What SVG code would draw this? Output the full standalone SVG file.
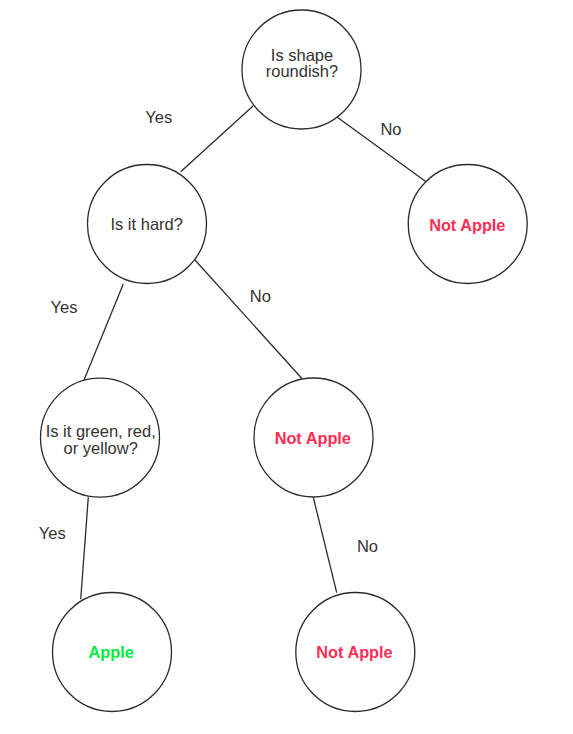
<svg xmlns="http://www.w3.org/2000/svg" width="573" height="734" viewBox="0 0 573 734">
<style>
.node{fill:#ffffff;stroke:#2b2b2b;stroke-width:1.3}
.edge{stroke:#2b2b2b;stroke-width:1.3;fill:none}
.t{font-family:"Liberation Sans",Arial,sans-serif;font-size:16.5px;fill:#333333;text-anchor:middle}
.no{font-family:"Liberation Sans",Arial,sans-serif;font-size:16.3px;font-weight:bold;fill:#ff2e55;text-anchor:middle}
.yes{font-family:"Liberation Sans",Arial,sans-serif;font-size:16.3px;font-weight:bold;fill:#00ee44;text-anchor:middle}
</style>
<rect width="573" height="734" fill="#ffffff"/>
<g id="connectors">
<line class="edge" x1="253" y1="106" x2="180.7" y2="171.7"/>
<line class="edge" x1="337.3" y1="117.3" x2="426" y2="181.7"/>
<line class="edge" x1="123.3" y1="284" x2="84" y2="380"/>
<line class="edge" x1="195" y1="260" x2="301.7" y2="378.3"/>
<line class="edge" x1="88.3" y1="497.3" x2="80.7" y2="599.3"/>
<line class="edge" x1="313.3" y1="497.3" x2="336.7" y2="592.7"/>
<text class="t" x="158.7" y="123.3">Yes</text>
<text class="t" x="391" y="135">No</text>
<text class="t" x="64" y="313">Yes</text>
<text class="t" x="260.3" y="301.7">No</text>
<text class="t" x="52.2" y="539.3">Yes</text>
<text class="t" x="367.5" y="551.7">No</text>
</g>
<g id="root">
<circle class="node" cx="301.5" cy="69.5" r="59.5"/>
<text class="t" x="302" y="60.7">Is shape</text>
<text class="t" x="302" y="77.3">roundish?</text>
</g>
<g id="hard">
<circle class="node" cx="147" cy="224" r="59.5"/>
<text class="t" x="146.7" y="230">Is it hard?</text>
</g>
<g id="notapple1">
<circle class="node" cx="467.7" cy="224" r="59.5"/>
<text class="no" x="467.3" y="230.7">Not Apple</text>
</g>
<g id="color">
<circle class="node" cx="100" cy="437.7" r="59.5"/>
<text class="t" x="100.7" y="436.7">Is it green, red,</text>
<text class="t" x="100.7" y="454.3">or yellow?</text>
</g>
<g id="notapple2">
<circle class="node" cx="313.5" cy="437.5" r="59.5"/>
<text class="no" x="312.8" y="444.3">Not Apple</text>
</g>
<g id="apple">
<circle class="node" cx="112" cy="652" r="59.5"/>
<text class="yes" x="111.2" y="658.3">Apple</text>
</g>
<g id="notapple3">
<circle class="node" cx="355.3" cy="652" r="59.5"/>
<text class="no" x="354.5" y="658.3">Not Apple</text>
</g>
</svg>
